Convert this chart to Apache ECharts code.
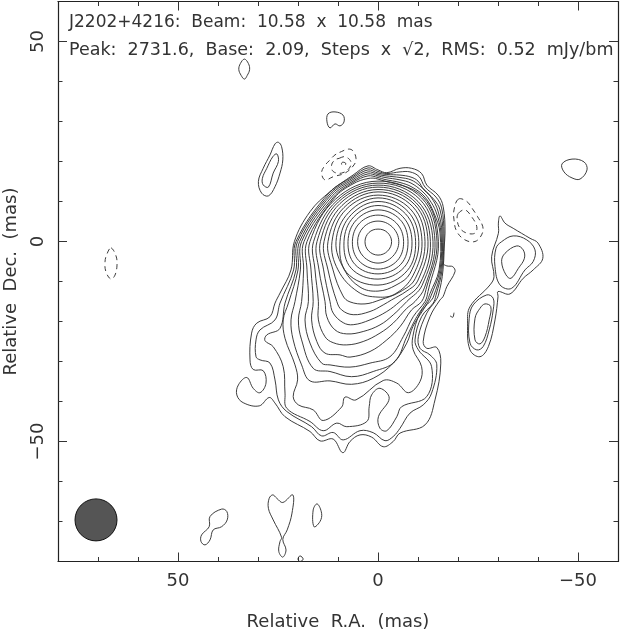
<!DOCTYPE html>
<html><head><meta charset="utf-8">
<style>html,body{margin:0;padding:0;background:#fff}#c{width:620px;height:630px}</style>
<script src="https://cdn.jsdelivr.net/npm/echarts@6/dist/echarts.min.js"></script>
</head><body><div id="c"></div>
<script>
const titleLines = ["J2202+4216:  Beam:  10.58  x  10.58  mas", "Peak:  2731.6,  Base:  2.09,  Steps  x  \u221A2,  RMS:  0.52  mJy/bm"];
const xName = "Relative  R.A.  (mas)";
const yName = "Relative  Dec.  (mas)";
const labelTicks = [50, 0, -50];
const xMinor = [-50,-40,-30,-20,-10,0,10,20,30,40,50,60,70];
const yMinor = [-70,-60,-50,-40,-30,-20,-10,0,10,20,30,40,50];
const beamCentre = [[70.5,-69.6]];

// Main source contours [RA, Dec] in mas; level 21 is innermost
const level21 = [[0,3.1],[-2.3,2.3],[-3.4,0],[-2.4,-2.4],[0,-3.4],[2.35,-2.35],[3.25,0],[2.26,2.26]];
const level20 = [[0,5.1],[-3.6,3.6],[-5.2,0],[-3.7,-3.7],[0,-5.4],[3.7,-3.7],[5.1,0],[3.6,3.6]];
const level19 = [[0,6.6],[-4.6,4.6],[-6.4,0],[-4.8,-4.8],[0,-6.9],[4.8,-4.8],[6.4,0],[4.6,4.6]];
const level18 = [[0,7.9],[-5.5,5.5],[-7.5,0],[-5.7,-5.7],[0,-8.1],[5.75,-5.75],[7.5,0],[5.4,5.4]];
const level17 = [[0,9],[-6.2,6.2],[-8.5,0],[-6.5,-6.5],[0,-9.4],[6.7,-6.7],[8.5,0],[6.1,6.1]];
const level16 = [[0,10],[-6.9,6.9],[-9.4,0],[-7.3,-7.3],[0,-10.9],[7.8,-7.8],[9.5,0],[6.7,6.7]];
const level15 = [[0,10.9],[-7.5,7.5],[-10.2,0],[-8,-8],[-4.5,-10.9],[0,-12.4],[4.5,-11.4],[8.4,-7.1],[10.5,0],[7.3,7.3]];
const level14 = [[0,11.6],[-8.1,8.1],[-11,0],[-8.7,-8.6],[-4.3,-13.1],[0,-13.9],[5,-12.6],[10,-7.1],[11.5,0],[8,8]];
const level13 = [[0,12.4],[-8.7,8.7],[-11.75,0],[-9.3,-9.3],[-5.5,-12.6],[-0.5,-14.6],[3.25,-15.6],[7,-15.1],[8.75,-13.6],[11.25,-7.1],[12.5,0],[8.5,8.5]];
const level12 = [[0,13],[-9.2,9.2],[-12.5,0],[-9.9,-9.9],[-7,-12.5],[-3.4,-14.6],[-1.3,-15.85],[2,-17.5],[6.2,-18.3],[9.1,-17.1],[10.3,-15],[12.5,-7.1],[13.5,0],[9,9]];
const level11 = [[0,13.6],[-9.6,9.6],[-13.1,0],[-10.5,-10.5],[-5.5,-15],[-2.2,-17.5],[2,-19.6],[6.2,-20.8],[8.7,-20.3],[11.2,-17.9],[12,-15],[13.6,-7.1],[14.4,0],[9.5,9.5]];
const level10 = [[0,14.1],[-10,10],[-13.75,0],[-11,-11],[-7.2,-15],[-3.8,-18.35],[-0.5,-20.85],[3.7,-22.5],[7.8,-23.1],[10.75,-22.1],[12.8,-18.8],[13.25,-15],[14.75,-7.1],[15.25,0],[9.9,9.9]];
const level09 = [[0,14.6],[-10.5,10.5],[-14.25,0],[-11.6,-11.6],[-9.25,-15],[-7.2,-16.7],[-3.8,-20.4],[-0.5,-22.9],[3.7,-25],[7.8,-25.85],[11.2,-25.3],[13.25,-23.8],[14.9,-19.6],[14.9,-15],[15.75,-7.1],[16.1,0],[10.25,10.25]];
const level08 = [[0,15.1],[-10.9,10.9],[-14.75,0],[-12,-12],[-10.9,-15],[-8.4,-17.1],[-5.5,-21.3],[-2.2,-24.6],[2,-27.5],[7,-28.9],[9.5,-28.35],[13.25,-27.9],[15.3,-25],[16.6,-19.6],[16.2,-15],[16.75,-7.1],[17,0],[10.6,10.6]];
const level07 = [[0,15.6],[-11.2,11.2],[-15.1,0],[-12.5,-12.5],[-11.75,-15],[-8.8,-18.8],[-6.3,-23.8],[-3,-28.8],[2,-30.4],[7,-31.4],[12,-30.85],[14.1,-30.4],[17,-25.4],[18.25,-19.6],[17.4,-15],[17.75,-7.1],[17.75,0],[10.9,10.9],[6.25,14.4],[2.5,15.75]];
const level06 = [[0,16],[-1.75,15.5],[-5.5,14.75],[-8.5,13.6],[-11.75,11.1],[-14,7.1],[-15.5,2.1],[-15.25,-7.1],[-13,-13],[-12.2,-15],[-9.7,-18.8],[-7.2,-23.8],[-4.25,-30],[1.2,-32.5],[6.6,-33.8],[12,-32.5],[16.2,-31.7],[19.1,-24.6],[19.9,-19.6],[19.1,-15],[18.6,-7.1],[18.5,0],[11.1,11.1],[6.25,14.75],[2.5,16.4]];
const level05 = [[0,16.4],[-1.75,16],[-5.5,15.4],[-8.25,14.6],[-11,12.6],[-12.75,10.6],[-14.5,7.4],[-15.75,2.1],[-15.5,-7.1],[-13.25,-13.6],[-12.6,-15],[-11.3,-17.1],[-8.7,-21.3],[-7.2,-25.4],[-3.8,-30.4],[1.2,-34.2],[6.6,-35.7],[12,-34.85],[17,-34.85],[19.1,-30.85],[21.2,-24.6],[21.75,-19.6],[20.75,-15],[19.4,-7.1],[19.1,0],[11.4,11.4],[6.25,15.1],[2.5,16.9]];
const level04 = [[0,16.75],[-2,16.4],[-5.5,16],[-8.25,15.4],[-10.5,13.9],[-13.25,11.1],[-15,7.6],[-16,2.1],[-15.75,-7.1],[-13.75,-14.1],[-13,-15],[-10.5,-17.9],[-8.7,-23.8],[-8.8,-27.1],[-10.9,-31.3],[-10.5,-35],[-7.6,-37.8],[-4.7,-35.4],[-1.3,-34.75],[5.5,-39.6],[8.25,-38.9],[9.1,-41.4],[13.7,-44.75],[16.2,-42.1],[19.9,-40.85],[21.2,-38.75],[20.1,-34.6],[20.75,-30.85],[23.25,-24.2],[23.7,-19.6],[22.4,-15.4],[20,-7.1],[19.6,0],[11.7,11.7],[6.25,15.5],[2.5,17.4]];
const level03 = [[0,17.1],[-2.2,16.75],[-5.5,16.6],[-8.25,16.1],[-10,15.1],[-11.5,12.9],[-14,10.5],[-15.5,7.9],[-16.25,2.1],[-16,-7.1],[-14.5,-13.4],[-13.8,-15.4],[-10.9,-18.8],[-9.25,-24.6],[-10.1,-27.1],[-13.4,-31.3],[-12.2,-38.75],[-5.9,-41.3],[-4.7,-43.8],[-2.2,-47.3],[-0.5,-46.7],[-0.1,-43.8],[-2.8,-39.2],[-0.5,-36.7],[1.6,-38.35],[2.2,-41.3],[2.8,-45],[7.8,-46.3],[10.3,-45.4],[13.7,-47.3],[17,-45],[22.8,-41.7],[23.25,-37.9],[23.7,-31.3],[26.2,-26.3],[28.25,-24.8],[27.8,-23.35],[24.5,-21.7],[23.25,-15.4],[20.5,-7.1],[20.1,0],[11.95,11.95],[6.25,15.9],[2.5,17.9]];
const level02 = [[0,17.5],[-2.2,17],[-5.5,17.4],[-8,17.4],[-10.25,16.25],[-11.75,13.6],[-14.5,11.1],[-15.9,8.4],[-16.5,2.1],[-16.25,-7.1],[-15.1,-13.4],[-14.25,-15],[-12.2,-17.9],[-10.1,-23.75],[-10.5,-26.7],[-13,-28.35],[-14.7,-30.85],[-13.4,-37.9],[-11.3,-40.85],[-8,-42.9],[-5.5,-46.7],[-3.8,-48.75],[-1.75,-49.8],[1.2,-47.8],[4.5,-47.3],[8.7,-49.6],[11.2,-47.75],[14.1,-48.6],[16.6,-46.3],[22.8,-42.5],[24.9,-39.6],[25.75,-34.6],[27,-30.4],[29.5,-29.6],[30.5,-28.8],[30.5,-24.6],[29.5,-22.1],[25.75,-19.6],[24.5,-15.4],[21.1,-7.1],[20.5,0],[12.2,12.2],[6.25,16.25],[2.5,18.4]];
const level01 = [[0,17.9],[-2.2,17.2],[-5.5,18.3],[-8.4,18.3],[-10.9,17],[-12.2,14.1],[-15,11.6],[-16.3,8.7],[-16.75,2.1],[-16.3,-5.4],[-17.2,-6.1],[-18.7,-6.3],[-19.25,-7.55],[-17.2,-11.3],[-16.25,-13.8],[-15.5,-14.6],[-13,-18.8],[-11.3,-25],[-12.2,-26.7],[-14.7,-26.5],[-15.7,-30.4],[-14.25,-39.6],[-11.75,-45.85],[-5.5,-47.9],[-3.8,-50],[-1.3,-51.3],[1.6,-48.9],[4.5,-48.35],[7,-50],[8.8,-52.8],[11.2,-49.4],[14.5,-49.85],[17,-47.5],[23.25,-43.8],[25.75,-40.4],[27.2,-39],[29.7,-41.1],[33.7,-40.3],[35.3,-38.35],[34.9,-35.85],[32.8,-34],[31.2,-36.7],[29.5,-37.8],[28,-35.4],[28.7,-32.3],[31.2,-32],[32,-29.6],[31.6,-22.9],[30.3,-20.4],[27,-18.8],[25.75,-15.4],[24.5,-12.9],[21.75,-7.1],[20.9,0],[17,7.45],[12,12.45],[6.25,16.6],[2.5,18.9]];

// Separate solid islands
const islandNE1 = [[24.9,24.8],[24.1,23.7],[23.8,20.4],[24.5,17.1],[25.75,13.7],[27.4,11.4],[29.1,12.1],[29.9,15],[28.7,18.3],[27,21.65],[25.75,24.4]];
const islandNE2 = [[25.3,21.9],[24.9,20],[26.2,17.1],[27.4,13.6],[28.7,14.15],[28.9,15.8],[27.8,18.3],[26.3,21.2]];
const islandTop = [[33.4,45.6],[32.4,44.5],[32.1,43],[32.7,41.5],[33.4,40.6],[34.2,41.5],[34.8,43],[34.4,44.5]];
const islandN = [[10.75,32.4],[8.75,31.6],[8.5,29.9],[9.5,28.9],[10.75,29.4],[12,28.4],[12.75,29.9],[12.5,31.9]];
const islandE = [[-46,19.4],[-48.5,20.6],[-51.5,19.9],[-52.25,17.9],[-50.5,15.6],[-48.5,15.9],[-46.5,17.4]];
const jetOuter = [[-30.5,6.4],[-31.75,4.6],[-33.8,3.3],[-38,0.8],[-40,-0.4],[-41.2,-4.2],[-38.8,-7.1],[-36.3,-9.2],[-33,-13.1],[-30,-12.5],[-30,-13.8],[-29.25,-19.6],[-27.6,-26.25],[-25.5,-28.8],[-23,-27.1],[-22.4,-20.4],[-23,-16.3],[-28,-10.85],[-29,-8.8],[-28.4,-3.8],[-30.1,2.05],[-30.1,4.6]];
const jetUpper2 = [[-33.8,1.4],[-37.2,0.4],[-39.25,-2.1],[-38.8,-5],[-36.75,-7.1],[-33.4,-11.7],[-30.5,-10.85],[-29.25,-6.3],[-29.5,-1.7],[-30.9,-0.05]];
const jetUpper3 = [[-34.7,-1.1],[-36.3,-2.1],[-36.6,-4.2],[-35.1,-6.7],[-33.25,-9.2],[-32,-8.35],[-30.9,-5],[-31.75,-2.95]];
const jetLower2 = [[-27.2,-13.35],[-28.8,-14.2],[-28.8,-17.1],[-27.8,-22.1],[-26.3,-26.25],[-24.7,-27.1],[-23,-25.4],[-22.8,-19.2],[-23.8,-15.85]];
const jetLower3 = [[-26.75,-15.6],[-28.2,-16.3],[-27.8,-19.6],[-26.75,-23.8],[-25.5,-25.6],[-24.25,-24.6],[-24.25,-19.2],[-25.5,-16.7]];
const blobSE = [[39.1,-66.9],[37.8,-67.5],[37.7,-69.6],[39.1,-71.3],[41.2,-72.1],[42,-74.6],[43.25,-75.85],[44.25,-75],[44.1,-73.35],[42.2,-71.3],[42,-68.75]];
const blobS = [[26.3,-63.35],[25.3,-64.2],[23.8,-65.25],[21.3,-63.35],[21.5,-67.9],[22.7,-72.1],[23.8,-74.45],[23,-77.1],[23.8,-78.9],[24.8,-77.5],[24.5,-75],[24.1,-73.95],[26.2,-69.6],[27.4,-66.7],[27.2,-64.2]];
const blobS2 = [[15.2,-65.6],[14.1,-67.95],[14.5,-70],[16,-71.3],[16.2,-67.1]];
const blobEdge = [[19.5,-78.6],[18.7,-79.4],[19.5,-80],[20,-79.4]];

// Negative (dashed) contours
const negN1 = [[7.4,23.1],[6.3,22.7],[5.5,20.8],[6,19.15],[8.25,17.1],[11.2,16.2],[13.25,15.4],[14.1,17.1],[13.5,18.7],[12,20.4],[10.75,21.65],[9.1,22.5]];
const negN2 = [[9.7,20.8],[8.25,21.2],[6.8,20],[7.2,18.3],[9.1,17.1],[11.2,17.5],[11.6,19.15],[10.75,20.4]];
const negN3 = [[8.9,19.8],[8.1,19.6],[8.25,19],[9.1,19.3]];
const negW = [[66.75,-1.6],[65.5,-3.6],[65.25,-5.9],[65.75,-8.4],[66.75,-9.4],[68,-7.6],[68.25,-5.1],[67.75,-3.1]];
const negE1 = [[-20.1,10.6],[-22.2,10],[-23.8,7.9],[-24.9,6.2],[-26.2,3.7],[-25.9,1.65],[-24.25,0],[-21.75,0.4],[-19.7,2.5],[-19,5.4],[-19,7.9]];
const negE2 = [[-20.1,7.05],[-21.75,7.9],[-23.4,6.2],[-24.7,3.7],[-24.25,2.1],[-22.2,2.1],[-20.5,3.3],[-19.8,5.4]];
const stubMark = [[-18,-18.6],[-18.7,-18.95],[-19,-17.8]];

const solidContours = [level21,level20,level19,level18,level17,level16,level15,level14,level13,level12,level11,level10,level09,level08,level07,level06,level05,level04,level03,level02,level01,
  islandNE1,islandNE2,islandTop,islandN,islandE,jetOuter,jetUpper2,jetUpper3,jetLower2,jetLower3,blobSE,blobS,blobS2,blobEdge];
const dashedContours = [negN1,negN2,negN3,negW,negE1,negE2];

const INK = '#333';
// Each contour is a closed smooth ring placed through the chart's own axes with api.coord
const ringSeries = (pts, dash) => ({
  type:'custom', coordinateSystem:'cartesian2d', xAxisIndex:0, yAxisIndex:0,
  data:pts, encode:{x:0, y:1}, silent:true, animation:false, clip:true,
  renderItem:(params, api) => params.dataIndex !== 0 ? null : ({
    type:'polygon',
    shape:{points:pts.map(p => api.coord(p)), smooth:0.38},
    style:{fill:'none', stroke:INK, lineWidth:0.95, lineDash:dash}
  })
});
const series = [
  ...solidContours.map(c => ringSeries(c, null)),
  ...dashedContours.map(c => ringSeries(c, [5,4])),
  { type:'line', data:stubMark, smooth:0.3, showSymbol:false, silent:true, animation:false,
    lineStyle:{color:INK, width:0.95}, xAxisIndex:0, yAxisIndex:0 },
  { type:'scatter', data:beamCentre, symbol:'circle', symbolSize:42, silent:true, animation:false,
    itemStyle:{color:'#555', borderColor:'#111', borderWidth:1, opacity:1}, xAxisIndex:0, yAxisIndex:0 }
];
const FONT = 'DejaVu Sans';
const fmt = v => String(v).replace('-', '\u2212');
const axisBase = (extra, ticks, len, show) => Object.assign({
  type:'value', splitLine:{show:false}, animation:false,
  axisLine:{show, onZero:false, lineStyle:{color:'#222', width:1.2}},
  axisTick:{show:true, inside:true, length:len, customValues:ticks, lineStyle:{color:'#333', width:1}},
  axisLabel:{show:false}
}, extra);
const xExt = {min:-60, max:80, interval:10, inverse:true};
const yExt = {min:-80, max:60, interval:10};
const labelled = {show:true, customValues:labelTicks, formatter:fmt, color:'#333', fontFamily:FONT, fontSize:18};
const xAxis = [
  axisBase({...xExt, position:'bottom', axisLabel:{...labelled, margin:11}, name:xName, nameLocation:'middle', nameGap:52,
    nameTextStyle:{color:'#333', fontFamily:FONT, fontSize:18}}, xMinor, 4.5, true),
  axisBase({...xExt, position:'bottom'}, labelTicks, 9, false),
  axisBase({...xExt, position:'top'}, xMinor, 4.5, true),
  axisBase({...xExt, position:'top'}, labelTicks, 9, false)
];
const yAxis = [
  axisBase({...yExt, position:'left', axisLabel:{...labelled, margin:11, rotate:90, align:'center', verticalAlign:'bottom'}, name:yName, nameLocation:'middle', nameGap:38,
    nameTextStyle:{color:'#333', fontFamily:FONT, fontSize:18}}, yMinor, 4.5, true),
  axisBase({...yExt, position:'left'}, labelTicks, 9, false),
  axisBase({...yExt, position:'right'}, yMinor, 4.5, true),
  axisBase({...yExt, position:'right'}, labelTicks, 9, false)
];
const chart = echarts.init(document.getElementById('c'), null, {renderer:'canvas', width:620, height:630});
chart.setOption({
  animation:false, backgroundColor:'#fff',
  title: titleLines.map((t,i)=>({text:t, left:69, top:[14,41][i], padding:0,
    textStyle:{color:'#333', fontFamily:FONT, fontSize:[17,17.5][i], fontWeight:'normal'}})),
  grid:{left:58, top:1.5, width:560, height:560, containLabel:false, outerBoundsMode:'none'},
  xAxis, yAxis, series
});
</script></body></html>
